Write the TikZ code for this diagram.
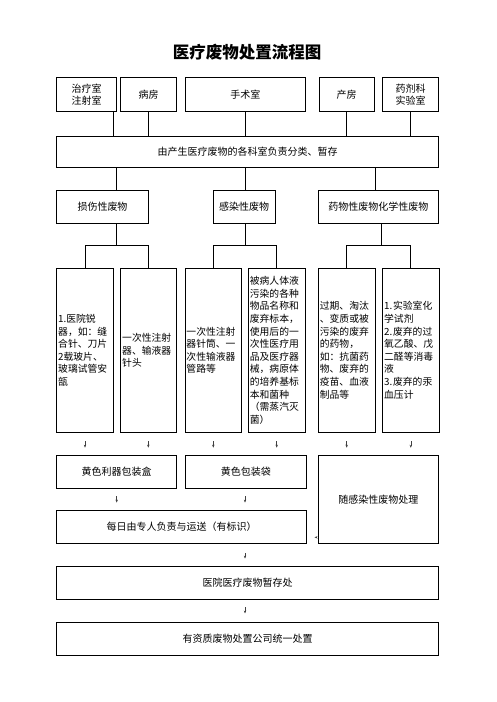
\documentclass[tikz,border=0pt]{standalone}
\usepackage{fontspec}
\newfontfamily\cjk{Noto Sans CJK SC}
\usetikzlibrary{arrows.meta}
\begin{document}
\begin{tikzpicture}[x=1pt,y=-1pt,
  box/.style={draw,line width=0.8pt,inner sep=0pt,align=center,
    font=\cjk\fontsize{10}{12.5}\selectfont},
  detail/.style={draw,line width=0.8pt,inner sep=1.5pt,align=left,
    minimum height=164pt,font=\cjk\fontsize{9.8}{12.6}\selectfont},
  link/.style={line width=0.8pt},
  arr/.style={line width=0.5pt,black!75,-{Stealth[length=3pt,width=2.4pt]}}]
\useasboundingbox (0,0) rectangle (496,702);
\node[font=\cjk\bfseries\fontsize{16.5}{18}\selectfont] (title) at (247,52) {医疗废物处置流程图};
% top row
\node[box,minimum width=60pt,minimum height=34pt] (t1) at (86.7,94.7) {治疗室\\注射室};
\node[box,minimum width=56pt,minimum height=34pt] (t2) at (148.7,94.7) {病房};
\node[box,minimum width=120.7pt,minimum height=34pt] (t3) at (245.3,94.7) {手术室};
\node[box,minimum width=55pt,minimum height=34pt] (t4) at (346.5,94.7) {产房};
\node[box,minimum width=55.6pt,minimum height=34pt] (t5) at (410.5,94.7) {药剂科\\实验室};
\node[box,minimum width=381.6pt,minimum height=31.3pt] (b) at (247.5,151.7) {由产生医疗废物的各科室负责分类、暂存};
% categories
\node[box,minimum width=91.6pt,minimum height=33.3pt] (cA) at (102.5,206.7) {损伤性废物};
\node[box,minimum width=61.7pt,minimum height=33.3pt] (cB) at (244.2,206.7) {感染性废物};
\node[box,minimum width=120pt,minimum height=33.3pt] (cC) at (378.3,206.7) {药物性废物化学性废物};
% details
\node[detail,minimum width=56.6pt,text width=53.6pt] (d1) at (85,350.3) {1.医院锐\\器，如：缝\\合针、刀片\\2载玻片、\\玻璃试管安\\瓿};
\node[detail,minimum width=56pt,text width=53pt] (d2) at (148.7,350.3) {一次性注射\\器、输液器\\针头};
\node[detail,minimum width=56.7pt,text width=53.7pt] (d3) at (213.3,350.3) {一次性注射\\器针筒、一\\次性输液器\\管路等};
\node[detail,minimum width=56.7pt,text width=53.7pt] (d4) at (276.7,350.3) {被病人体液\\污染的各种\\物品名称和\\废弃标本，\\使用后的一\\次性医疗用\\品及医疗器\\械，病原体\\的培养基标\\本和菌种\\（需蒸汽灭\\菌）};
\node[detail,minimum width=56.7pt,text width=53.7pt] (d5) at (346.7,350.3) {过期、淘汰\\、变质或被\\污染的废弃\\的药物，\\如：抗菌药\\物、废弃的\\疫苗、血液\\制品等};
\node[detail,minimum width=56.3pt,text width=53.3pt] (d6) at (410.8,350.3) {1.\kern0.8pt实验室化\\学试剂\\2.\kern0.8pt废弃的过\\氧乙酸、戊\\二醛等消毒\\液\\3.\kern0.8pt废弃的汞\\血压计};
% bottom
\node[box,minimum width=120pt,minimum height=33.3pt] (y1) at (116.7,471.7) {黄色利器包装盒};
\node[box,minimum width=121.7pt,minimum height=33.3pt] (y2) at (245.8,471.7) {黄色包装袋};
\node[box,minimum width=120pt,minimum height=88.3pt] (s) at (378.3,499.3) {随感染性废物处理};
\node[box,minimum width=250pt,minimum height=32.6pt] (m) at (181.7,527) {每日由专人负责与运送（有标识）};
\node[box,minimum width=381.6pt,minimum height=32.6pt] (h) at (247.5,583) {医院医疗废物暂存处};
\node[box,minimum width=381.6pt,minimum height=32.7pt] (f) at (247.5,638.7) {有资质废物处置公司统一处置};
% x positions of connectors
\coordinate (xa) at (113.3,0);
\coordinate (xb) at (148.3,0);
\coordinate (xc) at (245,0);
\coordinate (xd) at (346.7,0);
\coordinate (xe) at (410,0);
\coordinate (xf) at (116.7,0);
\coordinate (xg) at (375,0);
\coordinate (xh) at (381.7,0);
\coordinate (xi) at (276.7,0);
\coordinate (yA) at (0,245.7);
\coordinate (yL) at (0,537.3);
\draw[link] (t1.south -| xa) -- (b.north -| xa);
\draw[link] (t2.south -| xb) -- (b.north -| xb);
\draw[link] (t3.south -| xc) -- (b.north -| xc);
\draw[link] (t4.south -| xd) -- (b.north -| xd);
\draw[link] (t5.south -| xe) -- (b.north -| xe);
\draw[link] (b.south -| xf) -- (cA.north -| xf);
\draw[link] (b.south -| xc) -- (cB.north -| xc);
\draw[link] (b.south -| xg) -- (cC.north -| xg);
% branches
\draw[link] (cA.south -| xf) -- (yA -| xf);
\draw[link] (d1.north) |- (yA -| xb) -- (d2.north -| xb);
\draw[link] (cB.south -| xc) -- (yA -| xc);
\draw[link] (d3.north) |- (yA -| xi) -- (d4.north -| xi);
\draw[link] (cC.south -| xh) -- (yA -| xh);
\draw[link] (d5.north) |- (yA -| xe) -- (d6.north -| xe);
% arrows
\draw[arr,shorten <=8.7pt,shorten >=7pt] (d1.south) -- (d1.south |- y1.north);
\draw[arr,shorten <=8.7pt,shorten >=7pt] (d2.south -| xb) -- (y1.north -| xb);
\draw[arr,shorten <=8.7pt,shorten >=7pt] (d3.south) -- (d3.south |- y2.north);
\draw[arr,shorten <=8.7pt,shorten >=7pt] (d4.south) -- (d4.south |- y2.north);
\draw[arr,shorten <=8.7pt,shorten >=7pt] (d5.south) -- (d5.south |- s.north);
\draw[arr,shorten <=8.7pt,shorten >=7pt] (d6.south) -- (d6.south |- s.north);
\draw[arr,shorten <=7.7pt,shorten >=7.7pt] (y1.south) -- (y1.south |- m.north);
\draw[arr,shorten <=7.7pt,shorten >=7.7pt] (y2.south -| xc) -- (m.north -| xc);
\draw[arr,shorten <=1pt,shorten >=7.4pt] (s.west |- yL) -- (m.east |- yL);
\draw[arr,shorten <=9.7pt,shorten >=7.7pt] (m.south -| xc) -- (h.north -| xc);
\draw[arr,shorten <=7.5pt,shorten >=8.5pt] (h.south -| xc) -- (f.north -| xc);
\end{tikzpicture}
\end{document}
